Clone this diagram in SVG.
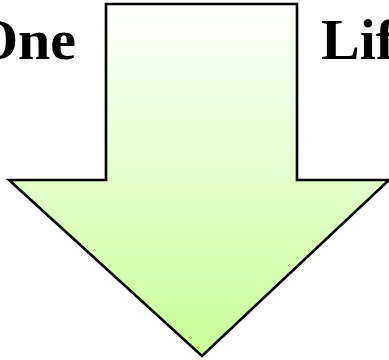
<svg xmlns="http://www.w3.org/2000/svg" width="389" height="360" viewBox="0 0 389 360">
<style>
.t{font-family:"Liberation Serif","Times New Roman",serif;font-weight:bold;font-size:58px;fill:#000}
</style>
<defs>
<linearGradient id="g" x1="0" y1="0" x2="0" y2="1">
<stop offset="0" stop-color="#ffffff"/>
<stop offset="1" stop-color="#c8ff98"/>
</linearGradient>
</defs>
<rect width="389" height="360" fill="#fff"/>
<g id="label-one"><text class="t" x="76" y="59" text-anchor="end">One</text></g>
<g id="label-life"><text class="t" x="321" y="59">Lif</text></g>
<g id="arrow">
<path d="M106,4 H297 V180 H389 L202,356 L9,180 H106 Z" fill="url(#g)" stroke="#000" stroke-width="2.6" stroke-linejoin="miter"/>
</g>
</svg>
